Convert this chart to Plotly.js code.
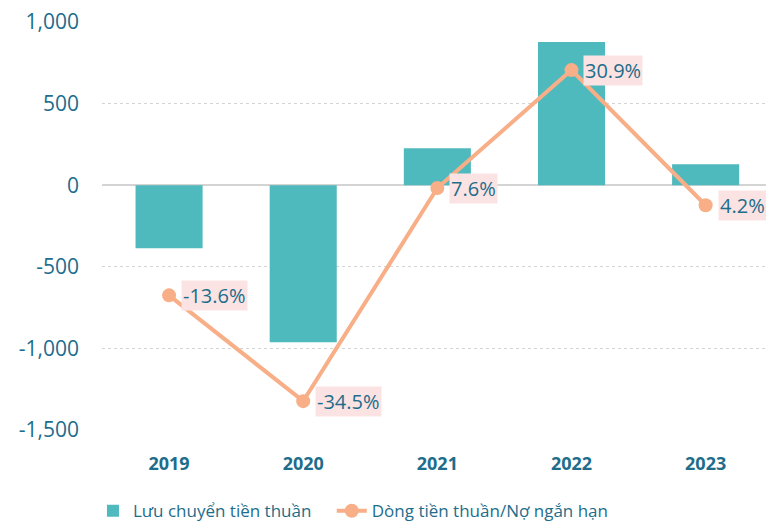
<!DOCTYPE html>
<html><head><meta charset="utf-8">
<script src="https://cdn.plot.ly/plotly-3.0.1.min.js"></script>
<style>html,body{margin:0;padding:0;background:#fff}#c{width:766px;height:525px}</style>
</head><body><div id="c"></div>
<script>
const years = ['2019','2020','2021','2022','2023'];
const netCashFlow = [-387, -963, 227, 877, 129];
const ratioPct = [-13.6, -34.5, 7.6, 30.9, 4.2];
const ratioLabels = ['-13.6%','-34.5%','7.6%','30.9%','4.2%'];
const yTickVals = [-1500,-1000,-500,0,500,1000];
const yTickText = ['-1,500','-1,000','-500','0','500','1,000'];
const seriesNames = ['Lưu chuyển tiền thuần','Dòng tiền thuần/Nợ ngắn hạn'];

const txtColor = '#1d6d8b';
const font = 'Open Sans, Noto Sans, sans-serif';

const traces = [
  {type:'bar', x:years, y:netCashFlow, name:seriesNames[0], width:0.5, legend:'legend',
   marker:{color:'#4fbabe'}, hoverinfo:'skip'},
  {type:'scatter', mode:'lines+markers', x:years, y:ratioPct, yaxis:'y2', name:seriesNames[1],
   legend:'legend2',
   line:{color:'#f8ae86', width:4}, marker:{color:'#f8ae86', size:14}, hoverinfo:'skip'}
];

const annotations = years.map((yr,i)=>({
  x: i, y: ratioPct[i], xref:'x', yref:'y2', text: ratioLabels[i],
  showarrow:false, xanchor:'left', yanchor:'middle', xshift:12,
  bgcolor:'#fbe3e3', font:{family:font, size:20, color:txtColor}, borderpad:1
}));

const legendFont = {family:font, size:17, color:txtColor};
const layout = {
  width:766, height:525,
  margin:{l:102, r:0, t:22, b:95, autoexpand:false},
  paper_bgcolor:'#fff', plot_bgcolor:'#fff',
  font:{family:font, size:17, color:txtColor},
  showlegend:true,
  legend:{orientation:'h', x:-0.0136, xanchor:'left', y:-0.199, yanchor:'middle', font:legendFont},
  legend2:{orientation:'h', x:0.346, xanchor:'left', y:-0.199, yanchor:'middle', font:legendFont},
  xaxis:{type:'category', range:[-0.5,4.45], showgrid:false, zeroline:false, showline:false,
         tickfont:{family:font, size:18, color:txtColor, weight:'bold'}, ticklabelstandoff:21},
  yaxis:{range:[-1500,1000], tickvals:yTickVals, ticktext:yTickText, showgrid:true,
         gridcolor:'#d4d4d4', griddash:'dot', gridwidth:1,
         zeroline:true, zerolinecolor:'#d4d4d4', zerolinewidth:2,
         tickfont:{family:font, size:21, color:txtColor}, ticklabelstandoff:22},
  yaxis2:{overlaying:'y', range:[-40.2,40.4], visible:false, showgrid:false, zeroline:false},
  annotations: annotations,
  bargap:0.5
};

Plotly.newPlot('c', traces, layout, {displayModeBar:false, staticPlot:true});
</script></body></html>
